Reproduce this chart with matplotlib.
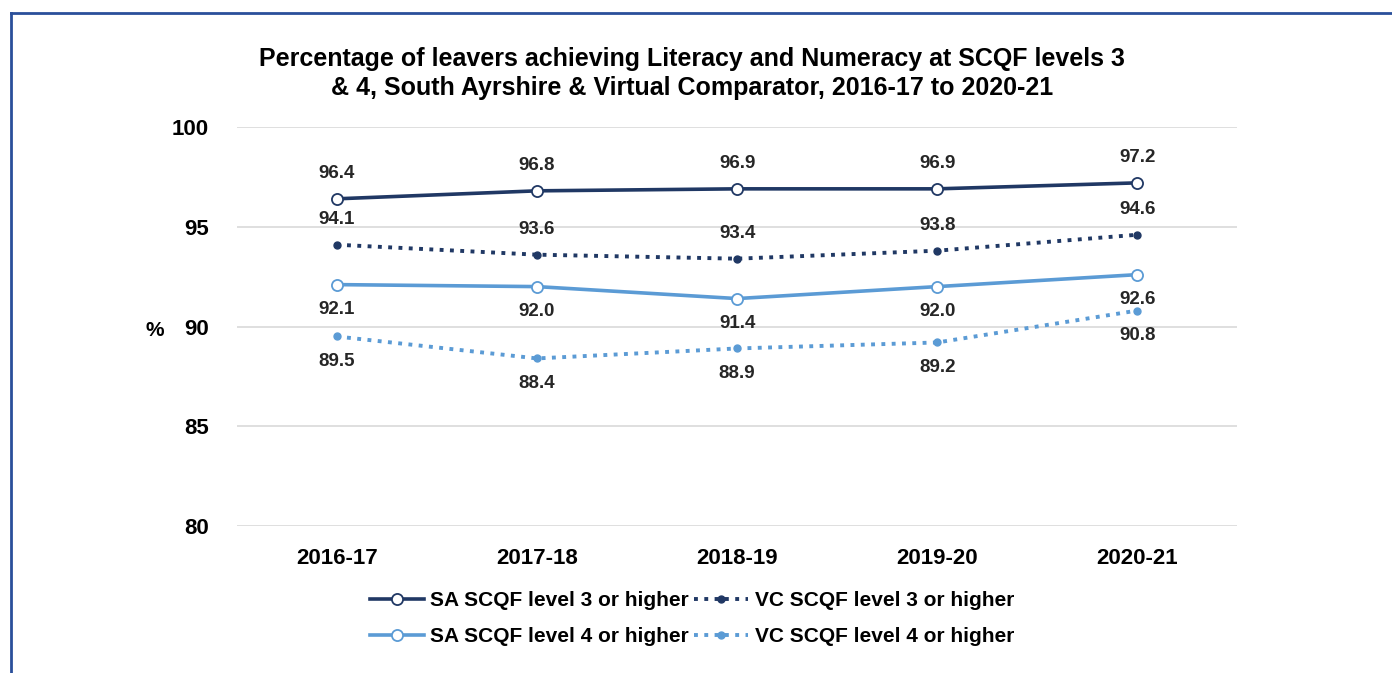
import matplotlib
matplotlib.use("Agg")
import matplotlib.pyplot as plt
from matplotlib.lines import Line2D

years = ["2016-17", "2017-18", "2018-19", "2019-20", "2020-21"]
sa_level3 = [96.4, 96.8, 96.9, 96.9, 97.2]
vc_level3 = [94.1, 93.6, 93.4, 93.8, 94.6]
sa_level4 = [92.1, 92.0, 91.4, 92.0, 92.6]
vc_level4 = [89.5, 88.4, 88.9, 89.2, 90.8]

dark = "#203864"
light = "#5B9BD5"

plt.rcParams["font.family"] = ["Liberation Sans", "DejaVu Sans"]
plt.rcParams["font.weight"] = "bold"

fig = plt.figure(figsize=(13.92, 6.73), dpi=100)
ax = fig.add_axes([0.170, 0.2184, 0.719, 0.5929])

x = list(range(len(years)))

series = [
    ("SA SCQF level 3 or higher", sa_level3, dark, "-", "o", "above"),
    ("VC SCQF level 3 or higher", vc_level3, dark, ":", ".", "above"),
    ("SA SCQF level 4 or higher", sa_level4, light, "-", "o", "below"),
    ("VC SCQF level 4 or higher", vc_level4, light, ":", ".", "below"),
]

for label, vals, col, ls, mk, pos in series:
    if mk == "o":
        ax.plot(x, vals, color=col, linestyle=ls, linewidth=2.6, marker="o",
                markersize=8, markerfacecolor="white", markeredgecolor=col,
                markeredgewidth=1.3, label=label, zorder=3)
    else:
        ax.plot(x, vals, color=col, linestyle=ls, linewidth=2.8, marker="o",
                markersize=5, markerfacecolor=col, markeredgecolor=col,
                label=label, zorder=3)
    for xi, v in zip(x, vals):
        off = 12 if pos == "above" else -12
        ax.annotate("%.1f" % v, (xi, v), xytext=(0, off), textcoords="offset points",
                    ha="center", va="bottom" if pos == "above" else "top",
                    fontsize=13.5, fontweight="bold", color="#262626")

ax.set_xlim(-0.5, 4.5)
ax.set_ylim(80, 100)
ax.set_yticks([80, 85, 90, 95, 100])
ax.set_xticks(x)
ax.set_xticklabels(years)
ax.tick_params(axis="both", length=0, labelsize=16, colors="black")
ax.tick_params(axis="y", pad=20)
ax.tick_params(axis="x", pad=16)
ax.grid(axis="y", color="#D9D9D9", linewidth=1.2)
ax.set_axisbelow(True)
for s in ax.spines.values():
    s.set_visible(False)

ax.set_ylabel("%", rotation=0, fontsize=15, fontweight="bold", va="center")
ax.yaxis.set_label_coords(-0.082, 0.49)

fig.text(0.497, 0.891,
         "Percentage of leavers achieving Literacy and Numeracy at SCQF levels 3\n"
         "& 4, South Ayrshire & Virtual Comparator, 2016-17 to 2020-21",
         ha="center", va="center", fontsize=18, fontweight="bold", linespacing=1.3)

handles, labels = ax.get_legend_handles_labels()
order = [0, 2, 1, 3]
leg = fig.legend([handles[i] for i in order], [labels[i] for i in order],
                 loc="center", bbox_to_anchor=(0.497, 0.081), ncol=2, frameon=False,
                 fontsize=15, handlelength=2.6, handletextpad=0.3, columnspacing=0.25,
                 labelspacing=0.8)
for t in leg.get_texts():
    t.set_fontweight("bold")

# blue frame on top and left edges
fig.add_artist(Line2D([0.0079, 1.0], [0.9807, 0.9807], color="#2A4F9A", linewidth=2,
                      transform=fig.transFigure))
fig.add_artist(Line2D([0.0079, 0.0079], [0.0, 0.9807], color="#2A4F9A", linewidth=2,
                      transform=fig.transFigure))

fig.savefig("out.png", dpi=100)
